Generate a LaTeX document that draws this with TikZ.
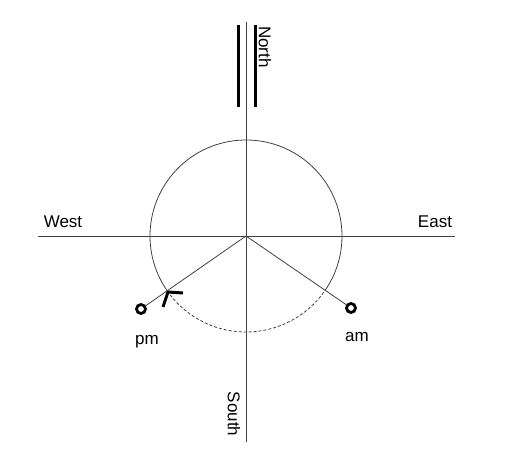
\documentclass[tikz,border=0pt]{standalone}
\usepackage{fontspec}
\setmainfont{Liberation Sans}
\begin{document}
\begin{tikzpicture}[x=1pt,y=1pt,
  thinline/.style={draw=black!75,line width=0.8pt},
  thickbar/.style={draw=black,line width=3pt},
  lbl/.style={font=\fontsize{17}{20}\selectfont,inner sep=0pt},
  dot/.style={circle,draw=black,line width=2.8pt,minimum size=9pt,inner sep=0pt}]
\useasboundingbox (0,0) rectangle (509,450);
\coordinate (O) at (246,214);
\coordinate (Ntop) at (246,428);
\coordinate (Sbot) at (246,8);
\coordinate (Wend) at (38,214);
\coordinate (Eend) at (455,214);
\draw[thinline] (Ntop) -- (Sbot);
\draw[thinline] (Wend) -- (Eend);
% north bars
\coordinate (b1t) at (238,425); \coordinate (b1b) at (238,343);
\coordinate (b2t) at (255,425); \coordinate (b2b) at (255,343);
\draw[thickbar] (b1t) -- (b1b);
\draw[thickbar] (b2t) -- (b2b);
% circle
\draw[thinline] (O) ++(-34.8:96pt) arc[start angle=-34.8,end angle=214.8,radius=96pt];
\draw[thinline,dash pattern=on 3pt off 2pt] (O) ++(214.8:96pt) arc[start angle=214.8,end angle=325.2,radius=96pt];
% markers
\node[dot] (pmdot) at (141,141) {};
\node[dot] (amdot) at (351,142) {};
\draw[thinline] (O) -- (pmdot);
\draw[thinline] (O) -- (amdot);
% angle mark
\coordinate (m1) at (163,143);
\coordinate (m2) at (168,158);
\coordinate (m3) at (183,157);
\draw[line width=3pt,line join=round] (m1) -- (m2) -- (m3);
% labels
\node[lbl,rotate=-90] (north) at (265,403) {North};
\node[lbl,rotate=-90] (south) at (234,36) {South};
\node[lbl] (west) at (63,228) {West};
\node[lbl] (east) at (435,228) {East};
\node[lbl] (pm) at (147,108) {pm};
\node[lbl] (am) at (357,113) {am};
\end{tikzpicture}
\end{document}
